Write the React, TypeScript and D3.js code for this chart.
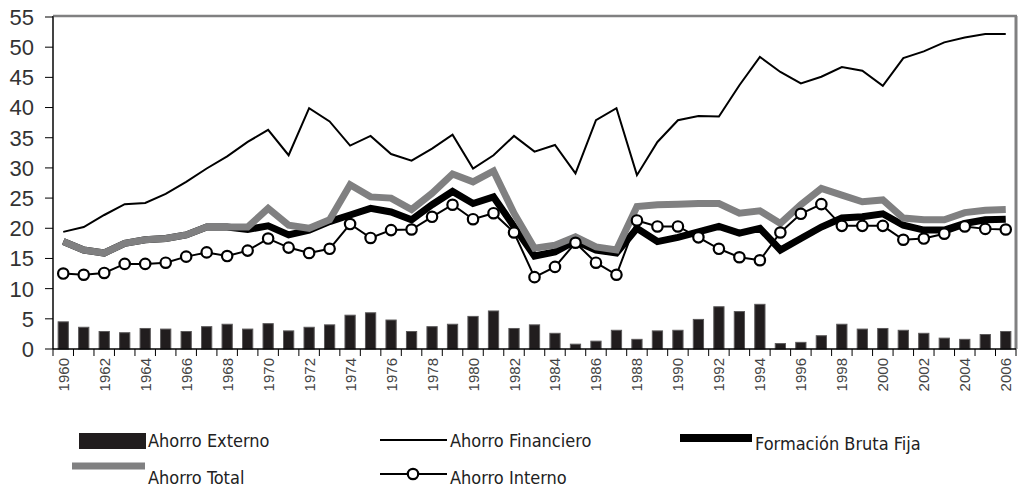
import React from "react";
import * as d3 from "d3";

const years = [
  1960, 1961, 1962, 1963, 1964, 1965, 1966, 1967, 1968, 1969,
  1970, 1971, 1972, 1973, 1974, 1975, 1976, 1977, 1978, 1979,
  1980, 1981, 1982, 1983, 1984, 1985, 1986, 1987, 1988, 1989,
  1990, 1991, 1992, 1993, 1994, 1995, 1996, 1997, 1998, 1999,
  2000, 2001, 2002, 2003, 2004, 2005, 2006,
];

const ahorroExterno = [
  4.5, 3.6, 2.9, 2.7, 3.4, 3.3, 2.9, 3.7, 4.1, 3.3,
  4.2, 3.0, 3.6, 4.0, 5.6, 6.0, 4.8, 2.9, 3.7, 4.1,
  5.4, 6.3, 3.4, 4.0, 2.6, 0.8, 1.3, 3.1, 1.6, 3.0,
  3.1, 4.9, 7.0, 6.2, 7.4, 0.9, 1.1, 2.2, 4.1, 3.3,
  3.4, 3.1, 2.6, 1.8, 1.6, 2.4, 2.9,
];

const ahorroFinanciero = [
  19.4, 20.2, 22.2, 24.0, 24.2, 25.7, 27.7, 29.9, 31.9, 34.3,
  36.3, 32.1, 39.9, 37.7, 33.7, 35.3, 32.3, 31.2, 33.2, 35.5,
  29.9, 32.1, 35.3, 32.7, 33.8, 29.1, 37.9, 39.9, 28.8, 34.3,
  37.9, 38.6, 38.5, 43.7, 48.4, 45.9, 44.0, 45.1, 46.7, 46.1,
  43.6, 48.2, 49.3, 50.8, 51.6, 52.2, 52.2,
];

const formacionBrutaFija = [
  17.8, 16.4, 15.9, 17.5, 18.1, 18.3, 18.9, 20.2, 20.2, 19.8,
  20.4, 18.9, 19.7, 21.1, 22.2, 23.3, 22.7, 21.4, 23.9, 26.1,
  24.1, 25.2, 20.3, 15.4, 16.1, 17.9, 16.4, 15.9, 20.0, 17.8,
  18.5, 19.4, 20.3, 19.2, 20.0, 16.4, 18.3, 20.2, 21.7, 21.9,
  22.4, 20.5, 19.7, 19.7, 20.8, 21.4, 21.5,
];

const ahorroTotal = [
  17.8, 16.4, 15.9, 17.5, 18.1, 18.3, 18.9, 20.2, 20.2, 20.2,
  23.3, 20.5, 20.0, 21.4, 27.2, 25.2, 25.0, 23.1, 25.8, 29.0,
  27.7, 29.5, 22.5, 16.7, 17.2, 18.6, 16.9, 16.4, 23.6, 23.9,
  24.0, 24.1, 24.1, 22.5, 22.9, 20.8, 23.9, 26.6, 25.5, 24.4,
  24.7, 21.7, 21.4, 21.4, 22.6, 23.0, 23.1,
];

const ahorroInterno = [
  12.5, 12.3, 12.6, 14.1, 14.1, 14.3, 15.3, 16.0, 15.4, 16.3,
  18.3, 16.8, 15.9, 16.6, 20.7, 18.4, 19.7, 19.8, 21.9, 23.9,
  21.5, 22.5, 19.3, 11.9, 13.6, 17.6, 14.3, 12.3, 21.3, 20.3,
  20.3, 18.5, 16.6, 15.2, 14.7, 19.3, 22.4, 24.0, 20.4, 20.4,
  20.4, 18.1, 18.3, 19.1, 20.3, 19.9, 19.8,
];

const yTicks = [0, 5, 10, 15, 20, 25, 30, 35, 40, 45, 50, 55];
const xLabelYears = years.filter((y) => (y - 1960) % 2 === 0);

const W = 1018;
const H = 489;
const left = 53;
const right = 1016;
const top = 16;
const bottom = 349;

const GRAY = "#808081";
const BAR = "#211d1e";
const labelFont = "'Liberation Sans', Arial, sans-serif";
const legendFont = "'Liberation Sans Narrow', 'DejaVu Sans Condensed', sans-serif";

export default function App() {
  const x = d3.scaleBand<number>().domain(years).range([left, right]).paddingInner(0).paddingOuter(0);
  const y = d3.scaleLinear().domain([0, 55]).range([bottom, top + 1]);
  const cx = (yr: number) => (x(yr) as number) + x.bandwidth() / 2;
  const barW = x.bandwidth() * 0.5;

  const line = (vals: number[]) =>
    d3
      .line<number>()
      .x((_, i) => cx(years[i]))
      .y((v) => y(v))(vals) as string;

  const boundaries = [...years.map((yr) => x(yr) as number), right];

  return (
    <svg
      width={W}
      height={H}
      style={{ position: "absolute", left: 0, top: 0, background: "#fff" }}
    >
      <rect x={0} y={0} width={W} height={H} fill="#fff" />
      {/* bars */}
      {ahorroExterno.map((v, i) => (
        <rect
          key={"b" + i}
          x={cx(years[i]) - barW / 2}
          y={y(v)}
          width={barW}
          height={bottom - y(v)}
          fill={BAR}
          stroke="#5c5a5b"
          strokeWidth={1}
        />
      ))}
      {/* financiero */}
      <path d={line(ahorroFinanciero)} fill="none" stroke="#000" strokeWidth={2} strokeLinejoin="miter" />
      {/* formacion bruta fija */}
      <path d={line(formacionBrutaFija)} fill="none" stroke="#000" strokeWidth={7} strokeLinejoin="miter" />
      {/* total */}
      <path d={line(ahorroTotal)} fill="none" stroke={GRAY} strokeWidth={7} strokeLinejoin="miter" />
      {/* interno */}
      <path d={line(ahorroInterno)} fill="none" stroke="#000" strokeWidth={2} />
      {ahorroInterno.map((v, i) => (
        <circle key={"c" + i} cx={cx(years[i])} cy={y(v)} r={5.2} fill="#fff" stroke="#000" strokeWidth={2.2} />
      ))}

      {/* frame */}
      <line x1={left} x2={right + 1} y1={top} y2={top} stroke={GRAY} strokeWidth={2.5} />
      <line x1={right} x2={right} y1={top} y2={bottom} stroke={GRAY} strokeWidth={3} />
      <line x1={left} x2={left} y1={top} y2={bottom} stroke="#444" strokeWidth={2} />
      <line x1={left} x2={right} y1={bottom} y2={bottom} stroke="#000" strokeWidth={1.5} />

      {/* y axis */}
      {yTicks.map((t) => (
        <g key={"y" + t}>
          <line x1={left - 8} x2={left} y1={y(t)} y2={y(t)} stroke="#000" strokeWidth={1} />
          <text
            x={34}
            y={y(t)}
            dy="0.36em"
            textAnchor="end"
            fontFamily={labelFont}
            fontSize={22}
            fill="#333"
          >
            {t}
          </text>
        </g>
      ))}

      {/* x axis */}
      {boundaries.map((b, i) => (
        <line key={"xt" + i} x1={b} x2={b} y1={bottom} y2={bottom + 7} stroke="#000" strokeWidth={1} />
      ))}
      {xLabelYears.map((yr) => (
        <text
          key={"xl" + yr}
          transform={`translate(${cx(yr) + 5.5},${bottom + 9}) rotate(-90)`}
          textAnchor="end"
          fontFamily={labelFont}
          fontSize={15}
          fill="#444"
        >
          {yr}
        </text>
      ))}

      {/* legend */}
      <g fontFamily={legendFont} fontSize={18} fill="#222">
        <rect x={79} y={433} width={67} height={16} fill={BAR} />
        <text x={148} y={447}>Ahorro Externo</text>

        <line x1={380} x2={447} y1={440} y2={440} stroke="#000" strokeWidth={2} />
        <text x={450} y={447}>Ahorro Financiero</text>

        <line x1={680} x2={752} y1={438} y2={438} stroke="#000" strokeWidth={8} />
        <text x={755} y={450}>Formación Bruta Fija</text>

        <line x1={72} x2={145} y1={466} y2={466} stroke={GRAY} strokeWidth={7} />
        <text x={148} y={484}>Ahorro Total</text>

        <line x1={380} x2={447} y1={474} y2={474} stroke="#000" strokeWidth={2} />
        <circle cx={413} cy={474} r={5.2} fill="#fff" stroke="#000" strokeWidth={2.2} />
        <text x={450} y={484}>Ahorro Interno</text>
      </g>
    </svg>
  );
}
